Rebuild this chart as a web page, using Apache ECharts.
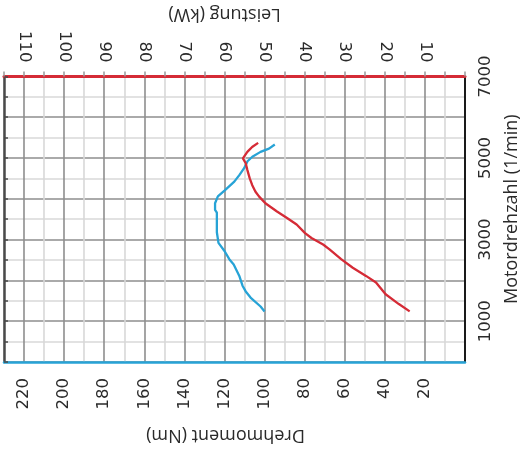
<!DOCTYPE html>
<html>
<head>
<meta charset="utf-8">
<style>
  html, body { margin: 0; padding: 0; background: #ffffff; }
  #chart { width: 529px; height: 453px; }
</style>
<script src="https://cdn.jsdelivr.net/npm/echarts@6/dist/echarts.min.js"></script>
</head>
<body>
<div id="chart"></div>
<script>
// Engine speed (1/min) and torque (Nm) along the torque curve
const rpmTorque = [1240, 1360, 1580, 1730, 1870, 2110, 2390, 2520, 2720, 2920, 3180, 3660, 3730, 3890, 4060, 4200, 4420, 4580, 4750, 4920, 5030, 5150, 5230, 5330];
const torqueNm  = [100, 102, 107, 109.4, 111, 112.6, 115.4, 117.6, 120, 123, 123.8, 123.8, 124.7, 124.7, 123.3, 120, 115.1, 112.6, 110.2, 108.5, 106.1, 102, 97.8, 94.9];

// Engine speed (1/min) and power (kW) along the power curve
const rpmPower = [1240, 1420, 1660, 1950, 2110, 2310, 2520, 2760, 2880, 3040, 3160, 3370, 3530, 3690, 3890, 4060, 4180, 4340, 4500, 4710, 4870, 4990, 5150, 5270, 5370];
const powerKw  = [13.8, 16.5, 19.8, 22.2, 24.7, 28.0, 30.9, 33.8, 35.4, 38.3, 39.9, 42.0, 44.4, 46.9, 49.8, 51.4, 52.3, 53.1, 53.7, 54.3, 54.7, 55.4, 54.3, 53.1, 51.6];

// Tick labels shown on each axis
const rpmTicks    = [1000, 3000, 5000, 7000];
const torqueTicks = [20, 40, 60, 80, 100, 120, 140, 160, 180, 200, 220];
const powerTicks  = [10, 20, 30, 40, 50, 60, 70, 80, 90, 100, 110];

const MAJOR = '#8e8e8e';
const MINOR = '#d8d8d8';
const RED = '#d52b36';
const BLUE = '#27a3d6';

const tickFont = { fontFamily: 'DejaVu Sans', fontSize: 16.5, color: '#2a2a2a' };
const titleFont = { fontFamily: 'Open Sans', fontSize: 18, color: '#2a2a2a' };

const chart = echarts.init(document.getElementById('chart'), null, { renderer: 'canvas' });

chart.setOption({
  animation: false,
  backgroundColor: '#ffffff',
  grid: { left: 4, right: 59, top: 74, bottom: 91, containLabel: false },
  xAxis: [
    {
      // torque, bottom
      type: 'value', position: 'bottom', inverse: true,
      min: 0, max: 230, interval: 10,
      name: 'Drehmoment (Nm)', nameLocation: 'middle', nameRotate: 180, nameGap: 64,
      nameTextStyle: Object.assign({ padding: [0, 0, 0, 18] }, titleFont),
      axisLine: { show: true, onZero: false, lineStyle: { color: BLUE, width: 2.5 } },
      axisTick: { show: false },
      axisLabel: Object.assign({
        rotate: 90, margin: 16, showMinLabel: true, showMaxLabel: true,
        formatter: v => torqueTicks.includes(v) ? String(v) : ''
      }, tickFont),
      splitLine: { show: true, lineStyle: { color: [MAJOR, MINOR], width: 1.6 } }
    },
    {
      // power, top
      type: 'value', position: 'top', inverse: true,
      min: 0, max: 115, interval: 5,
      name: 'Leistung (kW)', nameLocation: 'middle', nameRotate: 180, nameGap: 50,
      nameTextStyle: Object.assign({ padding: [0, 0, 0, 20] }, titleFont),
      axisLine: { show: true, onZero: false, lineStyle: { color: RED, width: 3 } },
      axisTick: { show: true, inside: false, length: 5, lineStyle: { color: '#9a9a9a', width: 1.5 } },
      axisLabel: Object.assign({
        rotate: 90, margin: 14, showMinLabel: true, showMaxLabel: true,
        formatter: v => powerTicks.includes(v) ? String(v) : ''
      }, tickFont),
      splitLine: { show: false }
    }
  ],
  yAxis: [
    {
      // engine speed, right
      type: 'value', position: 'right',
      min: 0, max: 7000, interval: 500,
      name: 'Motordrehzahl (1/min)', nameLocation: 'middle', nameRotate: 90, nameGap: 38,
      nameTextStyle: Object.assign({ padding: [0, 0, 0, 20] }, titleFont),
      axisLine: { show: true, onZero: false, lineStyle: { color: '#1a1a1a', width: 2 } },
      axisTick: { show: false },
      axisLabel: Object.assign({
        rotate: 90, margin: 12, showMinLabel: true, showMaxLabel: true,
        formatter: v => rpmTicks.includes(v) ? String(v) : ''
      }, tickFont),
      splitLine: { show: true, lineStyle: { color: [MAJOR, MINOR], width: 1.6 } }
    },
    {
      // left frame edge with short inner ticks
      type: 'value', position: 'left',
      min: 0, max: 7000, interval: 500,
      axisLine: { show: true, onZero: false, lineStyle: { color: '#4a4a4a', width: 2.5 } },
      axisTick: { show: true, inside: true, length: 4, lineStyle: { color: '#4a4a4a', width: 1.5 } },
      axisLabel: { show: false },
      splitLine: { show: false }
    }
  ],
  series: [
    {
      name: 'Drehmoment', type: 'line', xAxisIndex: 0, yAxisIndex: 0,
      data: torqueNm.map((t, i) => [t, rpmTorque[i]]),
      showSymbol: false, smooth: false,
      lineStyle: { color: BLUE, width: 2.3 }, z: 3
    },
    {
      name: 'Leistung', type: 'line', xAxisIndex: 1, yAxisIndex: 0,
      data: powerKw.map((p, i) => [p, rpmPower[i]]),
      showSymbol: false, smooth: false,
      lineStyle: { color: RED, width: 2.3 }, z: 3
    }
  ]
});
</script>
</body>
</html>
